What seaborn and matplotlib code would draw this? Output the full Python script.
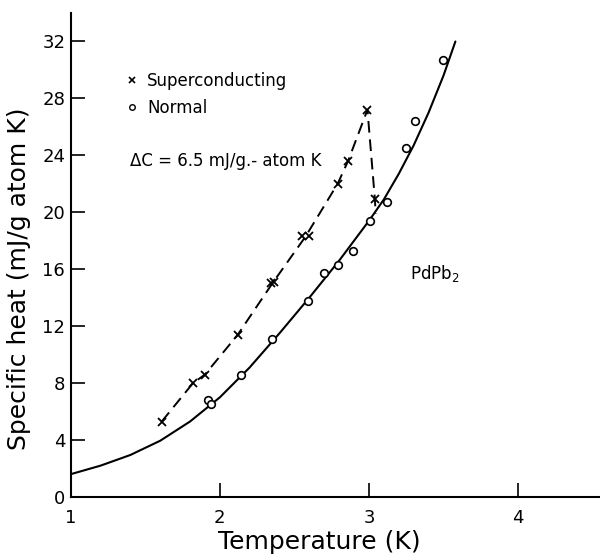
import matplotlib
matplotlib.use("Agg")
import matplotlib.pyplot as plt
import seaborn as sns
from matplotlib.lines import Line2D

# superconducting points (crosses)
sc_T = [1.61, 1.82, 1.90, 2.12, 2.345, 2.365, 2.55, 2.60, 2.79, 2.86, 2.99, 3.04]
sc_C = [5.3, 8.0, 8.6, 11.4, 15.0, 15.1, 18.3, 18.3, 22.0, 23.6, 27.2, 20.9]

# normal state points (circles)
n_T = [1.92, 1.94, 2.14, 2.35, 2.59, 2.70, 2.79, 2.89, 3.01, 3.12, 3.25, 3.31, 3.50]
n_C = [6.8, 6.5, 8.6, 11.1, 13.8, 15.7, 16.3, 17.3, 19.4, 20.7, 24.5, 26.4, 30.7]

# solid curve through normal state
fit_T = [1.0, 1.2, 1.4, 1.6, 1.8, 2.0, 2.2, 2.4, 2.6, 2.8, 3.0, 3.1, 3.2, 3.3, 3.4, 3.5, 3.58]
fit_C = [1.6, 2.2, 2.95, 3.95, 5.3, 7.0, 9.1, 11.5, 14.0, 16.6, 19.4, 20.9, 22.7, 24.7, 27.0, 29.6, 32.0]

# dashed guide through superconducting points
dash_T = [1.61, 1.82, 1.90, 2.12, 2.355, 2.575, 2.79, 2.86, 2.99, 3.04, 3.045]
dash_C = [5.3, 8.0, 8.6, 11.4, 15.05, 18.3, 22.0, 23.6, 27.2, 20.9, 19.9]

y_ticks = [0, 4, 8, 12, 16, 20, 24, 28, 32]
x_ticks = [1, 2, 3, 4]

sns.set_style("ticks")
plt.rcParams['font.family'] = ['DejaVu Sans']
plt.rcParams['text.color'] = 'black'
plt.rcParams['axes.labelcolor'] = 'black'

fig = plt.figure(figsize=(6, 5.54), dpi=100)
ax = fig.add_axes([0.118, 0.103, 0.882, 0.8735])

sns.lineplot(x=fit_T, y=fit_C, ax=ax, color='black', lw=1.5, sort=False)
sns.lineplot(x=dash_T, y=dash_C, ax=ax, color='black', lw=1.4, sort=False,
             linestyle=(0, (6, 3.5)))
ax.plot(sc_T, sc_C, linestyle='none', marker='x', ms=6, mew=1.3, color='black')
ax.plot(n_T, n_C, linestyle='none', marker='o', ms=5.5, mew=1.2,
        markerfacecolor='white', markeredgecolor='black')

handles = [
    Line2D([], [], linestyle='none', marker='x', ms=5, mew=1.2, color='black',
           label='Superconducting'),
    Line2D([], [], linestyle='none', marker='o', ms=4, mew=1.0,
           markerfacecolor='white', markeredgecolor='black', label='Normal'),
]
ax.legend(handles=handles, loc='upper left', bbox_to_anchor=(0.078, 0.91),
          frameon=False, handlelength=0.6, handletextpad=0.6,
          labelspacing=0.55, fontsize=12, labelcolor='black')

ax.text(1.40, 23.6, "ΔC = 6.5 mJ/g.- atom K", fontsize=12, va='center')
ax.text(3.275, 15.7, "PdPb$_2$", fontsize=12, va='center')

ax.set_xlim(1, 4.55)
ax.set_ylim(0, 34)
ax.set_xticks(x_ticks)
ax.set_yticks(y_ticks)
ax.set_xticklabels(['1', '2', '3', '4'])
ax.tick_params(axis='both', direction='in', length=10, width=1.2,
               labelsize=13, colors='black')
ax.tick_params(axis='x', pad=9)
ax.tick_params(axis='y', pad=4)
sns.despine(ax=ax)
for s in ['left', 'bottom']:
    ax.spines[s].set_linewidth(1.5)
    ax.spines[s].set_color('black')

ax.set_xlabel("Temperature (K)", fontsize=18, va='center')
ax.set_ylabel("Specific heat (mJ/g atom K)", fontsize=18, va='center')
ax.xaxis.set_label_coords(0.469, -0.093)
ax.yaxis.set_label_coords(-0.097, 0.45)

fig.savefig("out.png", dpi=100)
